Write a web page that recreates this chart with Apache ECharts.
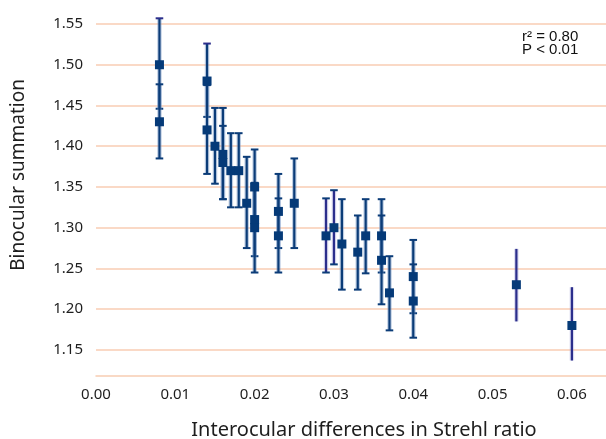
<!DOCTYPE html>
<html>
<head>
<meta charset="utf-8">
<script src="https://cdn.jsdelivr.net/npm/echarts@6/dist/echarts.min.js"></script>
<style>
  html, body { margin: 0; padding: 0; background: #fff; }
  #chart { width: 606px; height: 439px; }
</style>
</head>
<body>
<div id="chart"></div>
<script>
// interocular difference in Strehl ratio
const strehlDiff = [0.008, 0.008, 0.014, 0.014, 0.015, 0.016, 0.016, 0.017, 0.018, 0.019,
  0.020, 0.020, 0.020, 0.023, 0.023, 0.025, 0.029, 0.030, 0.031, 0.033,
  0.034, 0.036, 0.036, 0.037, 0.040, 0.040, 0.053, 0.060]
// binocular summation
const summation = [1.50, 1.43, 1.48, 1.42, 1.40, 1.39, 1.38, 1.37, 1.37, 1.33,
  1.35, 1.31, 1.30, 1.32, 1.29, 1.33, 1.29, 1.30, 1.28, 1.27,
  1.29, 1.29, 1.26, 1.22, 1.24, 1.21, 1.23, 1.18]
const errLow = [1.446, 1.385, 1.436, 1.366, 1.354, 1.335, 1.335, 1.325, 1.325, 1.275,
  1.304, 1.265, 1.245, 1.275, 1.245, 1.275, 1.245, 1.255, 1.224, 1.224,
  1.244, 1.245, 1.206, 1.174, 1.195, 1.165, 1.185, 1.137]
const errHigh = [1.557, 1.476, 1.526, 1.475, 1.447, 1.447, 1.425, 1.416, 1.416, 1.387,
  1.396, 1.355, 1.355, 1.366, 1.336, 1.385, 1.336, 1.346, 1.335, 1.315,
  1.335, 1.335, 1.315, 1.265, 1.285, 1.255, 1.274, 1.227]
const yTicks = [1.15, 1.20, 1.25, 1.30, 1.35, 1.40, 1.45, 1.50, 1.55]

// bars drawn in violet, bars without caps, violet top caps
const violetBars = [16, 17, 26, 27]
const noCapBars = [26, 27]
const violetTopCaps = [0, 2]

const NAVY = '#0b3c78'
const VIOLET = '#2b2e8c'
const GRID = '#f8cdb3'

const points = strehlDiff.map((x, i) => [x, summation[i]])
const bars = strehlDiff.map((x, i) => [x, errLow[i], errHigh[i]])

const chart = echarts.init(document.getElementById('chart'))
chart.setOption({
  backgroundColor: '#fff',
  animation: false,
  textStyle: { fontFamily: 'Noto Sans' },
  grid: { left: 96, right: 0, top: 24, bottom: 63 },
  xAxis: {
    type: 'value',
    min: 0,
    max: 0.0643,
    interval: 0.01,
    axisLine: { lineStyle: { color: GRID, width: 1.5 } },
    axisTick: { show: false },
    splitLine: { show: false },
    axisLabel: {
      showMaxLabel: false,
      margin: 11,
      color: '#1e1e1e',
      fontSize: 15,
      formatter: v => v.toFixed(2)
    }
  },
  yAxis: {
    type: 'value',
    min: 1.118,
    max: 1.55,
    axisLine: { show: false },
    axisTick: { show: false, customValues: yTicks },
    splitLine: { lineStyle: { color: GRID, width: 1.5 } },
    axisLabel: {
      customValues: yTicks,
      margin: 13,
      color: '#1e1e1e',
      fontSize: 15,
      formatter: v => v.toFixed(2)
    }
  },
  graphic: [
    {
      type: 'text', left: 9, top: 79, rotation: Math.PI / 2,
      style: { text: 'Binocular summation', font: '19px "Noto Sans"', fill: '#1e1e1e' }
    },
    {
      type: 'text', x: 364, y: 430,
      style: { text: 'Interocular differences in Strehl ratio', font: '20px "Noto Sans"', fill: '#1e1e1e', align: 'center', verticalAlign: 'middle' }
    },
    {
      type: 'text', x: 522, y: 30,
      style: { text: 'r² = 0.80\nP < 0.01', font: '15px "Liberation Sans"', fill: '#111', lineHeight: 13 }
    }
  ],
  series: [
    {
      type: 'custom',
      z: 2,
      data: bars,
      encode: { x: 0, y: [1, 2] },
      renderItem: function (params, api) {
        const i = params.dataIndex
        const top = api.coord([api.value(0), api.value(2)])
        const bot = api.coord([api.value(0), api.value(1)])
        const violet = violetBars.includes(i)
        const color = violet ? VIOLET : NAVY
        const halo = violet ? 'rgba(150,150,210,0.35)' : 'rgba(110,145,190,0.45)'
        const children = [
          { type: 'line', shape: { x1: top[0], y1: top[1], x2: bot[0], y2: bot[1] }, style: { stroke: halo, lineWidth: 4.5 } },
          { type: 'line', shape: { x1: top[0], y1: top[1], x2: bot[0], y2: bot[1] }, style: { stroke: color, lineWidth: 2.2 } }
        ]
        if (!noCapBars.includes(i)) {
          const hw = 3.8
          children.push(
            { type: 'line', shape: { x1: top[0] - hw, y1: top[1], x2: top[0] + hw, y2: top[1] }, style: { stroke: violetTopCaps.includes(i) ? VIOLET : NAVY, lineWidth: 2 } },
            { type: 'line', shape: { x1: bot[0] - hw, y1: bot[1], x2: bot[0] + hw, y2: bot[1] }, style: { stroke: NAVY, lineWidth: 2 } }
          )
        }
        return { type: 'group', children: children }
      }
    },
    {
      type: 'scatter',
      z: 3,
      symbol: 'rect',
      symbolSize: 9,
      itemStyle: { color: '#053a78', opacity: 1 },
      data: points
    }
  ]
})
</script>
</body>
</html>
